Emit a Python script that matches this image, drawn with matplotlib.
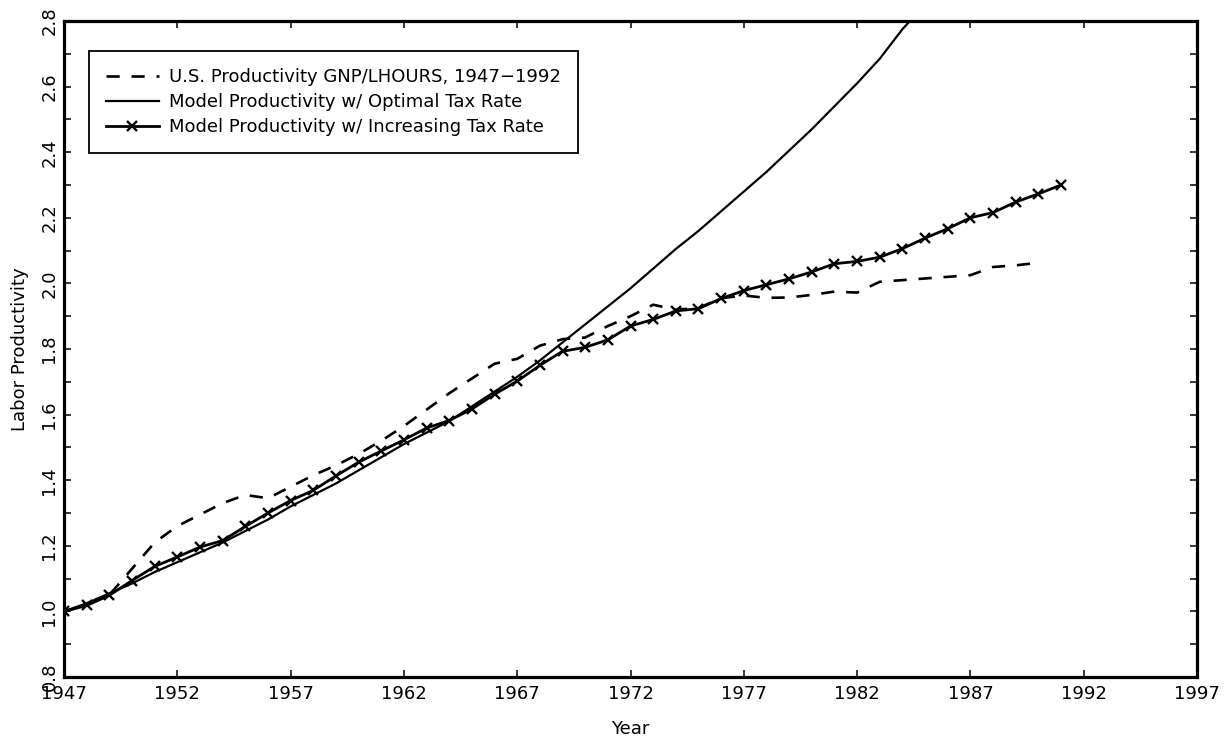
import matplotlib
matplotlib.use("Agg")
import matplotlib.pyplot as plt
import numpy as np
from matplotlib.legend_handler import HandlerLine2D
from matplotlib.ticker import MultipleLocator

# data
us_years = list(range(1947, 1991))
us_productivity = [
    1.00, 1.02, 1.05, 1.13, 1.21, 1.26, 1.295, 1.33, 1.355, 1.345,
    1.38, 1.415, 1.445, 1.48, 1.52, 1.565, 1.615, 1.665, 1.71, 1.755,
    1.77, 1.81, 1.83, 1.835, 1.87, 1.90, 1.935, 1.92, 1.925, 1.955,
    1.963, 1.956, 1.957, 1.965, 1.975, 1.972, 2.005, 2.01, 2.015, 2.02,
    2.025, 2.05, 2.055, 2.063,
]

optimal_years = list(range(1947, 1986))
optimal_productivity = [
    1.00, 1.025, 1.055, 1.085, 1.12, 1.15, 1.18, 1.21, 1.245, 1.28,
    1.32, 1.355, 1.39, 1.43, 1.47, 1.51, 1.545, 1.58, 1.625, 1.67,
    1.715, 1.765, 1.82, 1.875, 1.93, 1.985, 2.045, 2.105, 2.16, 2.22,
    2.28, 2.34, 2.405, 2.47, 2.54, 2.61, 2.685, 2.775, 2.85,
]

increasing_years = list(range(1947, 1992))
increasing_productivity = [
    1.00, 1.018, 1.049, 1.094, 1.137, 1.166, 1.196, 1.216, 1.259, 1.300,
    1.338, 1.369, 1.413, 1.455, 1.489, 1.523, 1.559, 1.582, 1.617, 1.662,
    1.702, 1.750, 1.793, 1.805, 1.828, 1.870, 1.890, 1.916, 1.923, 1.954,
    1.978, 1.996, 2.014, 2.035, 2.060, 2.067, 2.080, 2.106, 2.138, 2.167,
    2.200, 2.216, 2.248, 2.273, 2.300,
]

x_ticks = list(range(1947, 1998, 5))
y_ticks = [0.8, 1.0, 1.2, 1.4, 1.6, 1.8, 2.0, 2.2, 2.4, 2.6, 2.8]


class LeftMarkerHandler(HandlerLine2D):
    # legend handle with the marker drawn only at the left end
    def get_xdata(self, legend, xdescent, ydescent, width, height, fontsize):
        xdata = np.array([-xdescent, -xdescent + width])
        return xdata, np.array([-xdescent + 3.0])


plt.rcParams["font.family"] = ["DejaVu Sans"]
plt.rcParams["lines.scale_dashes"] = False

fig = plt.figure(figsize=(12.24, 7.44), dpi=100)
ax = fig.add_axes([64 / 1224, 67 / 744, 1133 / 1224, 656 / 744])

ax.plot(us_years, us_productivity, color="black", linewidth=1.9,
        dashes=(9.5, 8.5), label="U.S. Productivity GNP/LHOURS, 1947\u22121992")
ax.plot(optimal_years, optimal_productivity, color="black", linewidth=1.6,
        label="Model Productivity w/ Optimal Tax Rate")
inc_line, = ax.plot(increasing_years, increasing_productivity, color="black",
                    linewidth=2.0, marker="x", markersize=7, markeredgewidth=1.7,
                    label="Model Productivity w/ Increasing Tax Rate")

ax.set_xlim(1947, 1997)
ax.set_ylim(0.8, 2.8)
ax.set_xticks(x_ticks)
ax.set_yticks(y_ticks)
ax.yaxis.set_minor_locator(MultipleLocator(0.1))
ax.set_yticklabels([f"{v:.1f}" for v in y_ticks], rotation=90, va="center")

for side in ["left", "right", "top", "bottom"]:
    ax.spines[side].set_linewidth(2.3)
ax.tick_params(axis="both", which="both", direction="in", length=5, width=1.1,
               top=True, right=True, labelsize=13)
ax.tick_params(axis="x", pad=6)
ax.tick_params(axis="y", pad=4)

ax.set_xlabel("Year", fontsize=13, labelpad=12)
ax.set_ylabel("Labor Productivity", fontsize=13, labelpad=8)

leg = ax.legend(
    loc="upper left",
    bbox_to_anchor=(25 / 1133, 0.9547),
    borderaxespad=0.0,
    fontsize=13,
    frameon=True,
    fancybox=False,
    edgecolor="black",
    framealpha=1.0,
    handlelength=2.9,
    handletextpad=0.6,
    borderpad=0.95,
    labelspacing=0.4,
    numpoints=1,
    handler_map={inc_line: LeftMarkerHandler()},
)
leg.get_frame().set_linewidth(1.3)

fig.savefig("out.png", dpi=100)
